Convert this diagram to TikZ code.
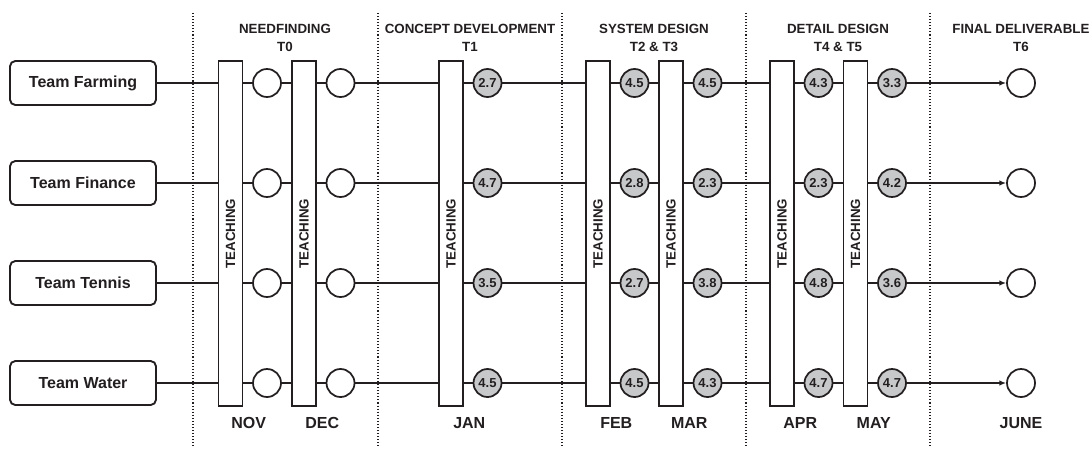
\documentclass[tikz,border=0pt]{standalone}
\usepackage{fontspec}
\setmainfont{Liberation Sans}
\usetikzlibrary{arrows.meta,calc}
\definecolor{ink}{HTML}{231F20}
\definecolor{score}{HTML}{C7C8CA}
\tikzset{team/.style={draw=ink,line width=1.4pt,rounded corners=4pt,minimum width=109.5pt,minimum height=33pt,font=\fontsize{12}{14}\selectfont\bfseries,text=ink}, bar/.style={draw=ink,fill=white,line width=1.4pt,minimum width=18pt,minimum height=258.75pt,inner sep=0pt,font=\fontsize{10}{12}\selectfont\bfseries,text=ink}, dot/.style={circle,draw=ink,fill=white,line width=1.3pt,minimum size=21pt,inner sep=0pt}, scored/.style={dot,fill=score,font=\fontsize{9.75}{11}\selectfont\bfseries,text=ink}, month/.style={font=\fontsize{12}{14}\selectfont\bfseries,text=ink}, phase/.style={align=center,font=\fontsize{10}{13.5}\selectfont\bfseries,text=ink}, link/.style={draw=ink,line width=1.2pt}, arr/.style={link,-{Latex[length=5pt,width=4pt]}}, divider/.style={draw=ink,line width=0.9pt,dash pattern=on 0.8pt off 1.5pt}}

\begin{document}
\begin{tikzpicture}[x=0.75pt,y=-0.75pt]
\useasboundingbox (0,0) rectangle (1091,453);
% phase dividers and headings
\foreach \x in {193,378,562,746,930} \draw[divider] (\x,13)--(\x,448);
\foreach \x/\t [count=\p] in {285/{NEEDFINDING\\T0},470/{CONCEPT DEVELOPMENT\\T1},654/{SYSTEM DESIGN\\T2 \& T3},838/{DETAIL DESIGN\\T4 \& T5},1021/{FINAL DELIVERABLE\\T6}} \node[phase] (ph\p) at (\x,38) {\t};
% teaching blocks with their months
\foreach \k/\x/\m in {1/230.5/NOV,2/304/DEC,3/451/JAN,4/598/FEB,5/671/MAR,6/782/APR,7/855.5/MAY}{
  \node[bar] (b\k) at (\x,233.5) {\rotatebox{90}{TEACHING}};
  \node[month] (m\k) at (\x+18.25,423) {\m};}
\node[month] (m8) at (1021,423) {JUNE};
% one row per team
\foreach \r/\t/\vals in {1/Farming/{2.7,4.5,4.5,4.3,3.3},2/Finance/{4.7,2.8,2.3,2.3,4.2},3/Tennis/{3.5,2.7,3.8,4.8,3.6},4/Water/{4.5,4.5,4.3,4.7,4.7}}{
  \node[team] (t\r) at (83,{83+100*(\r-1)}) {Team \t};
  \foreach \k in {1,2} \node[dot] (c\r-\k) at ($(b\k |- t\r)+(36.5,0)$) {};
  \foreach \v [count=\k from 3] in \vals \node[scored] (c\r-\k) at ($(b\k |- t\r)+(36.5,0)$) {\v};
  \node[dot] (f\r) at (1021,{83+100*(\r-1)}) {};
  \draw[link] (t\r) -- (t\r -| b1.west);
  \foreach \k in {1,...,7} \draw[link] (b\k.east |- t\r) -- (c\r-\k);
  \foreach \k [evaluate=\k as \n using int(\k+1)] in {1,...,6} \draw[link] (c\r-\k) -- (t\r -| b\n.west);
  \draw[arr] (c\r-7) -- (f\r);
}
\end{tikzpicture}
\end{document}
